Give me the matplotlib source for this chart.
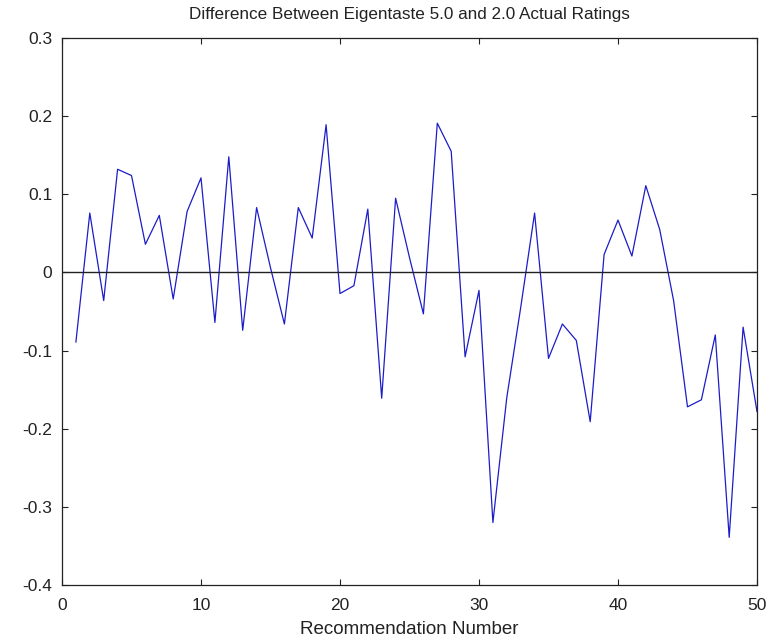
import matplotlib
matplotlib.use("Agg")
import matplotlib.pyplot as plt
import numpy as np

plt.rcParams["font.family"] = ["Liberation Sans", "DejaVu Sans"]

# Difference between Eigentaste 5.0 and 2.0 actual ratings, per recommendation
recommendation = np.arange(1, 51)
difference = [
    -0.089, 0.076, -0.036, 0.132, 0.124, 0.036, 0.073, -0.034, 0.078, 0.121,
    -0.064, 0.148, -0.074, 0.083, 0.006, -0.066, 0.083, 0.044, 0.189, -0.027,
    -0.017, 0.081, -0.161, 0.095, 0.019, -0.053, 0.191, 0.155, -0.108, -0.023,
    -0.320, -0.160, -0.045, 0.076, -0.110, -0.066, -0.087, -0.191, 0.023, 0.067,
    0.021, 0.111, 0.055, -0.036, -0.172, -0.163, -0.080, -0.339, -0.070, -0.178,
]
ytick_labels = ["-0.4", "-0.3", "-0.2", "-0.1", "0", "0.1", "0.2", "0.3"]

fig = plt.figure(figsize=(7.66, 6.42), dpi=100)
ax = fig.add_axes([62 / 766, 57 / 642, 695 / 766, 547 / 642])

ax.plot(recommendation, difference, color="#1c1cc8", linewidth=0.9)
ax.axhline(0, color="#222222", linewidth=1.0)

ax.set_xlim(0, 50)
ax.set_ylim(-0.4, 0.3)
ax.set_xticks([0, 10, 20, 30, 40, 50])
ax.set_yticks(np.round(np.arange(-0.4, 0.31, 0.1), 1))
ax.set_yticklabels(ytick_labels)
ax.tick_params(direction="in", length=4, width=0.8, top=True, right=True,
               labelsize=12.5, labelcolor="#222222", color="#222222")
ax.tick_params(axis="x", pad=9)
ax.tick_params(axis="y", pad=7)
for s in ax.spines.values():
    s.set_linewidth(0.9)
    s.set_color("#222222")

ax.set_title("Difference Between Eigentaste 5.0 and 2.0 Actual Ratings",
             fontsize=12.3, pad=14, color="#222222")
ax.set_xlabel("Recommendation Number", fontsize=13.5, labelpad=6,
              color="#222222")

fig.savefig("out.png", dpi=100)
